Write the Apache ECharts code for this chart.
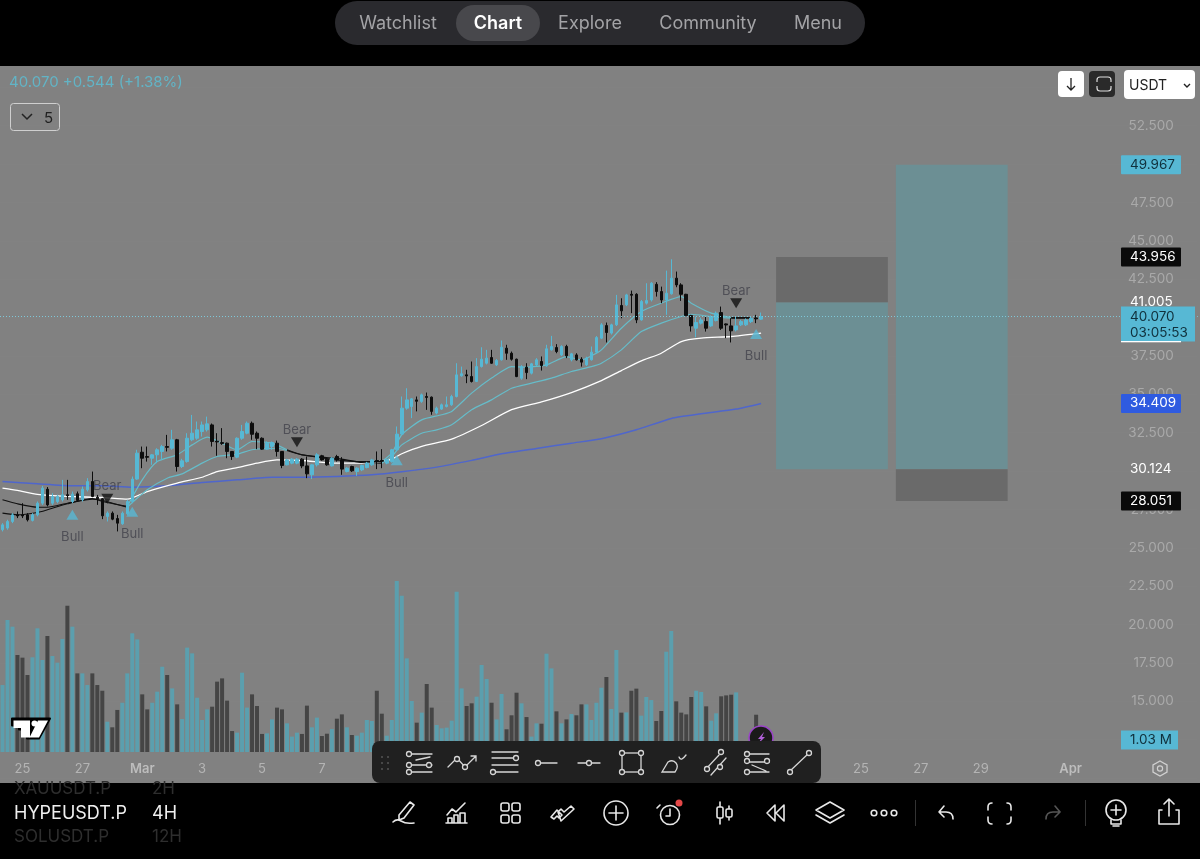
<!DOCTYPE html>
<html><head><meta charset="utf-8">
<style>
html,body{margin:0;padding:0;background:#000;width:1200px;height:859px;overflow:hidden}
#chart{position:absolute;left:0;top:0;width:1200px;height:859px}
#chrome{position:absolute;left:0;top:0;pointer-events:none}
#chrome text{font-family:Inter,"Noto Sans",sans-serif}
.i{fill:none;stroke:#e8e8e8;stroke-width:1.6;stroke-linecap:round;stroke-linejoin:round}
.t{fill:none;stroke:#d6d6d6;stroke-width:1.3;stroke-linecap:round}
.t circle{fill:#202020}
</style>
<script src="https://cdn.jsdelivr.net/npm/echarts@6/dist/echarts.min.js"></script>
</head><body>
<div id="chart"></div>
<svg id="chrome" width="1200" height="859" viewBox="0 0 1200 859">
  <!-- top bar -->
  <rect x="0" y="0" width="1200" height="66" fill="#000"/>
  <rect x="335" y="1" width="530" height="44" rx="22" fill="#2a2a2e"/>
  <rect x="456" y="5" width="84" height="36" rx="18" fill="#48484c"/>
  <g font-size="18" fill="#a3a3a6" text-anchor="middle">
    <text x="398" y="29">Watchlist</text>
    <text x="498" y="29" fill="#fff" font-weight="600">Chart</text>
    <text x="590" y="29">Explore</text>
    <text x="708" y="29">Community</text>
    <text x="818" y="29">Menu</text>
  </g>
  <!-- legend row -->
  <text x="9" y="87" font-size="15" fill="#62b4c6">40.070 +0.544 (+1.38%)</text>
  <rect x="10.5" y="103.5" width="49" height="27" rx="3" fill="none" stroke="#cfcfcf"/>
  <path d="M22 114l5 5 5-5" fill="none" stroke="#222" stroke-width="1.5"/>
  <text x="44" y="123" font-size="15" fill="#222">5</text>
  <!-- top right buttons -->
  <rect x="1058" y="71" width="26" height="26" rx="4" fill="#fff"/>
  <path d="M1071 78v12M1067 86l4 4 4-4" fill="none" stroke="#222" stroke-width="1.3"/>
  <rect x="1089" y="71" width="26" height="26" rx="4" fill="#2a2a2a"/>
  <path d="M1097 82v-2q0-3 3-3h8q3 0 3 3v2M1097 86v2q0 3 3 3h8q3 0 3-3v-2" fill="none" stroke="#ddd" stroke-width="1.2"/>
  <rect x="1124" y="70" width="71" height="29" rx="4" fill="#fff"/>
  <text x="1129" y="90" font-size="14" fill="#222">USDT</text>
  <path d="M1184 84l3 3 3-3" fill="none" stroke="#222" stroke-width="1.4"/>
  <!-- white EMA label edge -->
  <rect x="1121" y="341" width="60" height="1.3" fill="#fff"/>
  <!-- TradingView mark -->
  <path d="M12 718.5h38l-11 20h-12v-9h-8v-4h-7z" fill="#000" stroke="#000" stroke-width="2" stroke-linejoin="round"/>
  <path d="M13.5 720.5h16.5v17h-9v-9.5h-7.5z" fill="#fff"/>
  <circle cx="34.5" cy="723.5" r="3" fill="#fff"/>
  <path d="M38 720.5h10l-9 17h-9.5z" fill="#fff"/>
  <!-- lightning -->
  <circle cx="761" cy="738" r="12" fill="#1a1a1a" stroke="#9a45c8" stroke-width="1.6"/>
  <path d="M764 732l-6 7h3l-3 5 7-7h-3z" fill="#b060d8"/>
  <!-- settings hex -->
  <path d="M1160 761l7 4v7l-7 4-7-4v-7z" fill="none" stroke="#d0d0d0" stroke-width="1.3"/>
  <circle cx="1160" cy="768.5" r="2.6" fill="none" stroke="#d0d0d0" stroke-width="1.2"/>
  <!-- drawing toolbar -->
  <rect x="372" y="741" width="449" height="42" rx="8" fill="#202020"/>
  <g fill="#555"><circle cx="382" cy="757" r="1"/><circle cx="388" cy="757" r="1"/><circle cx="382" cy="763" r="1"/><circle cx="388" cy="763" r="1"/><circle cx="382" cy="769" r="1"/><circle cx="388" cy="769" r="1"/></g>
  <g class="t">
    <path d="M412 754h20M412 765h20M412 772h20M416 760l14-3" /><circle cx="409" cy="754" r="2.5"/><circle cx="429" cy="765" r="2.5"/><circle cx="409" cy="765" r="2.5"/><circle cx="409" cy="772" r="2.5"/>
    <path d="M448 767l9-9 8 9 11-11M471 756h5v5"/><circle cx="457" cy="759" r="2.5"/><circle cx="465" cy="767" r="2.5"/>
    <path d="M492 752h26M492 758h26M492 765h26M492 772h26"/><circle cx="516" cy="758" r="2.5"/><circle cx="493" cy="772" r="2.5"/>
    <path d="M539 763h18"/><circle cx="538" cy="763" r="2.5"/>
    <path d="M578 763h22"/><circle cx="589" cy="763" r="2.5"/>
    <rect x="622" y="753" width="19" height="19" fill="none"/><circle cx="622" cy="753" r="2.5"/><circle cx="641" cy="753" r="2.5"/><circle cx="622" cy="772" r="2.5"/><circle cx="641" cy="772" r="2.5"/>
    <path d="M662 772l6-10q5-3 8 1t-1 9zM679 757q2 5 7-2"/>
    <path d="M706 769l13-14M711 775l15-17"/><circle cx="707" cy="769" r="2.5"/><circle cx="721" cy="752" r="2.5"/><circle cx="720" cy="767" r="2.5"/>
    <path d="M747 754h22M747 762h22M747 772h22M752 765l14 6"/><circle cx="747" cy="754" r="2.5"/><circle cx="767" cy="761" r="2.5"/><circle cx="747" cy="761" r="2.5"/><circle cx="747" cy="772" r="2.5"/>
    <path d="M790 771l19-18"/><circle cx="790" cy="772" r="2.5"/><circle cx="809" cy="753" r="2.5"/>
  </g>
  <!-- bottom bar -->
  <rect x="0" y="783" width="1200" height="76" fill="#000"/>
  <g font-size="18">
    <text x="14" y="794" fill="#2e2e2e" font-size="17">XAUUSDT.P</text><text x="152" y="794" fill="#2e2e2e" font-size="17">2H</text>
    <text x="14" y="819" fill="#efefef">HYPEUSDT.P</text><text x="152" y="819" fill="#efefef">4H</text>
    <text x="14" y="842" fill="#2e2e2e" font-size="17">SOLUSDT.P</text><text x="152" y="842" fill="#2e2e2e" font-size="17">12H</text>
  </g>
  <g class="i">
    <path d="M410 802l4 3-10 13-5 2 0-5zM393 822c3-3 5-3 8-1s6 3 13 2"/>
    <path d="M447 815l5-6 4 3 9-9M448 823v-5h4v5zM454 823v-8h4v8zM460 823v-10h5v10zM446 823h21"/>
    <rect x="501" y="803" width="8" height="8" rx="2"/><rect x="512" y="803" width="8" height="8" rx="2"/><rect x="501" y="815" width="8" height="8" rx="2"/><rect x="512" y="815" width="8" height="8" rx="2"/>
    <path d="M551 817l6-7 5 5-3 3-2-2-3 3zM561 821l13-12-3-3-7 6-3-3-3 3z"/>
    <circle cx="616" cy="813" r="12"/><path d="M616 806v14M609 813h14"/>
    <circle cx="670" cy="815" r="9.5"/><path d="M670 809v7h-4M660 805l-3 3"/>
    <path d="M720 802v22M729 806v14"/><rect x="717" y="807" width="6" height="11" rx="1.5" fill="#000"/><rect x="726" y="809" width="6" height="8" rx="1.5" fill="#000"/>
    <path d="M775 805l-8 8 8 8M784 805l-8 8 8 8zM775 805v16" />
    <path d="M830 802l14 8-14 8-14-8zM816 815l14 8 14-8"/>
    <circle cx="874" cy="813" r="2.8"/><circle cx="884" cy="813" r="2.8"/><circle cx="894" cy="813" r="2.8"/>
    <path d="M953 819q0-7-7-7h-7M944 806l-5 6 5 5"/>
    <path d="M992 803q-4 0-4 4v3M1007 803q4 0 4 4v3M992 824q-4 0-4-4v-3M1007 824q4 0 4-4v-3"/>
    <circle cx="1116" cy="810" r="10"/><path d="M1116 805v10M1111 810h10M1111 820v4h10v-4M1113 826h6"/>
    <path d="M1169 800v16M1164 804l5-5 5 5M1162 810h-3v14h20v-14h-3"/>
  </g>
  <path d="M1046 819q0-7 7-7h7M1055 806l5 6-5 5" fill="none" stroke="#555" stroke-width="1.6" stroke-linecap="round"/>
  <path d="M915.5 800v26M1085.5 800v26" stroke="#333"/>
  <circle cx="679" cy="803" r="3.5" fill="#e54848"/>
</svg>
<script>
// tick labels
const xTickIndex = [4,16,28,40,52,64,76,88,100,112,124,136,148,160,172,184,196,214];
const xTickText  = ['25','27','Mar','3','5','7','9','11','13','15','17','19','21','23','25','27','29','Apr'];
const yTickLabels = [52.5,47.5,45,42.5,37.5,35,32.5,27.5,25,22.5,20,17.5,15];

// candles: open, close, low, high
const candles = [
[26.18,26.50,26.07,26.61],[26.29,26.72,26.18,26.83],[26.72,27.15,26.61,27.26],[27.15,27.08,26.94,27.37],[27.15,27.08,26.94,27.91],
[27.15,26.83,26.72,27.26],[26.79,27.15,26.72,27.26],[27.15,27.91,27.05,28.02],[27.91,28.89,27.80,29.04],[28.82,27.80,27.70,28.96],
[27.91,28.35,27.80,28.56],[28.02,28.35,27.91,28.46],[28.13,28.46,28.02,29.43],[28.46,28.40,28.13,29.43],[28.02,28.50,27.91,28.67],
[28.52,28.09,28.02,28.67],[28.13,28.82,28.02,29.00],[28.78,29.32,28.67,29.54],[29.32,28.35,28.30,29.97],[28.30,28.20,27.80,28.45],
[28.20,27.09,26.87,28.25],[27.05,27.26,26.72,27.37],[27.26,26.87,26.80,27.37],[26.91,26.61,26.07,27.15],[26.57,27.26,26.50,27.37],
[27.22,28.02,27.15,28.13],[28.02,29.48,27.91,29.65],[29.48,31.17,29.43,31.39],[31.23,30.84,30.19,31.60],[30.95,30.90,30.62,31.60],
[30.84,31.06,30.41,31.10],[31.06,31.39,30.52,31.49],[31.28,31.60,30.73,31.71],[31.60,31.55,31.28,32.36],[31.49,32.04,31.39,32.69],
[32.04,30.30,29.97,32.10],[30.30,30.67,30.20,30.80],[30.62,32.14,30.55,32.47],[32.04,32.47,31.95,33.66],[32.14,32.69,32.04,33.23],
[32.58,33.01,32.25,33.23],[32.69,33.08,32.58,33.55],[33.01,31.93,31.60,33.10],[31.95,31.90,31.00,32.47],[31.86,31.80,31.71,32.80],
[31.82,31.28,30.84,31.86],[31.28,30.95,30.73,31.30],[30.91,32.14,30.84,32.20],[32.14,32.58,32.04,33.01],[32.47,33.12,32.40,33.23],
[33.12,32.40,32.04,33.23],[32.47,32.14,31.43,32.58],[32.14,31.43,31.39,32.20],[31.43,31.82,31.39,31.93],[31.60,31.86,31.39,31.93],
[31.82,31.28,30.95,31.99],[31.28,30.37,30.19,31.30],[30.41,30.73,30.37,30.80],[30.52,30.78,30.45,30.85],[30.52,30.78,30.45,30.85],
[30.78,30.34,30.19,30.84],[30.34,29.82,29.54,30.95],[29.76,30.41,29.48,30.45],[30.41,31.06,30.30,31.17],[31.00,30.73,30.68,31.06],
[30.78,30.41,30.35,30.84],[30.34,30.84,30.30,30.90],[30.95,30.73,30.62,31.06],[30.73,30.13,29.76,30.91],[29.97,30.19,29.92,30.25],
[30.30,30.02,29.95,30.35],[29.97,30.19,29.69,30.25],[30.08,30.36,30.00,30.42],[30.23,30.52,30.18,30.60],[30.41,30.73,30.35,30.80],
[30.69,30.64,30.13,31.28],[30.69,30.64,30.19,31.43],[30.52,30.74,30.45,30.80],[30.63,31.39,30.55,31.45],[31.39,32.41,31.30,32.91],
[32.41,34.10,32.35,34.86],[34.10,34.64,34.00,35.40],[34.21,34.71,33.45,34.75],[34.64,34.55,33.89,34.86],[34.54,34.97,34.45,35.05],
[34.86,34.80,33.99,35.12],[34.82,33.89,33.67,34.86],[33.78,34.10,33.70,34.20],[34.04,34.32,33.98,34.40],[34.21,34.32,34.15,34.86],
[34.32,34.86,34.25,34.97],[34.86,36.27,34.80,37.03],[36.21,36.34,36.15,36.81],[36.27,36.20,35.73,36.60],[36.16,35.84,35.77,37.14],
[35.84,36.81,35.80,37.36],[36.81,37.29,36.75,38.07],[37.03,37.36,36.95,37.90],[37.40,37.03,36.99,37.90],[36.92,37.21,36.85,37.30],
[37.25,38.07,37.20,38.51],[38.01,37.68,37.25,38.23],[37.68,37.29,37.20,37.79],[37.29,36.16,36.12,37.33],[36.05,36.81,35.95,36.90],
[36.77,36.42,35.99,37.03],[36.38,36.99,36.30,37.05],[36.92,37.25,36.85,37.36],[37.14,36.88,36.55,37.47],[36.86,37.97,36.80,38.23],
[37.90,38.12,37.85,38.81],[38.05,37.79,37.68,38.27],[37.57,38.12,37.50,38.20],[38.12,37.51,37.36,38.23],[37.25,37.64,37.15,37.70],
[37.57,37.25,37.20,37.68],[37.29,37.10,36.81,37.42],[36.92,37.36,36.85,37.45],[37.25,37.75,37.20,38.12],[37.75,38.70,37.68,38.80],
[38.66,39.53,38.60,39.64],[39.48,39.03,38.38,39.68],[38.99,39.53,38.90,39.60],[39.53,40.83,39.45,41.48],[40.79,40.44,39.96,41.26],
[40.83,41.48,40.75,41.55],[41.52,41.46,40.29,41.76],[41.52,39.85,39.64,41.59],[39.85,41.05,39.80,41.15],[40.94,41.11,40.85,42.24],
[41.15,42.24,41.05,42.31],[42.17,41.70,41.37,42.31],[41.70,41.15,40.94,42.02],[41.15,41.59,40.18,43.06],[41.55,42.57,41.50,43.80],
[42.57,42.13,41.98,43.00],[42.13,41.52,41.09,42.24],[41.52,40.13,40.11,41.55],[40.13,39.46,39.09,40.18],[39.31,39.68,38.72,40.07],
[39.64,39.85,39.55,40.00],[39.74,39.31,39.09,40.07],[39.46,40.07,39.40,40.15],[39.81,40.29,39.75,40.40],[40.33,39.31,39.20,40.72],
[39.59,39.52,38.66,39.62],[39.46,39.14,38.38,39.96],[39.20,39.46,39.10,40.07],[39.53,39.74,39.45,39.85],[39.53,39.85,39.45,39.95],
[39.74,39.96,39.65,40.05],[39.98,39.92,39.64,40.18],[39.90,40.07,39.85,40.33]
];

// volume in millions
const volume = [
5.75,11.33,10.76,8.33,8.10,6.61,8.13,10.62,7.90,9.96,8.24,7.67,9.70,12.56,10.76,6.75,6.75,5.75,6.75,5.75,
5.26,2.60,2.12,3.61,4.23,6.75,10.19,9.67,4.95,3.66,4.23,5.18,7.32,6.61,5.46,4.09,2.83,8.96,8.47,4.66,
2.75,3.66,3.89,6.04,6.32,4.41,1.80,1.66,6.81,3.81,4.95,3.95,1.55,1.60,2.80,3.81,3.66,2.46,1.32,1.66,
1.55,3.98,2.12,2.95,1.37,1.57,1.97,2.86,3.23,2.12,1.46,1.40,1.66,2.75,2.66,5.26,3.29,1.40,2.75,14.68,
13.42,8.04,4.38,2.52,3.38,5.84,3.81,2.32,2.03,2.09,2.69,13.76,5.46,3.95,4.18,4.75,7.47,6.27,4.23,2.80,
4.98,1.95,3.15,5.09,4.18,3.00,1.32,2.46,2.43,8.44,7.18,3.49,2.46,2.80,3.26,3.15,4.09,4.09,2.75,4.23,
5.52,6.44,3.69,8.76,3.38,3.40,5.26,5.44,3.12,4.72,4.46,2.66,3.52,8.61,10.39,4.35,3.38,3.23,4.72,5.26,
5.15,3.92,2.69,3.32,4.78,4.86,4.92,5.12,0.70,0.60,0.70,3.20,1.03
];

// moving averages: [bar, value]
const blueLine = [[0,29.32],[7,29.17],[14,29.04],[20,29.04],[26,28.95],[33,29.04],[40,29.26],[47,29.43],[54,29.60],[60,29.60],[67,29.65],[74,29.76],[80,29.96],[87,30.26],[94,30.70],[100,31.13],[107,31.48],[114,31.82],[120,32.11],[127,32.69],[134,33.43],[140,33.73],[147,34.04],[152,34.41]];
const whiteLine = [[0,28.89],[3,28.74],[7,28.48],[13,28.35],[20,28.28],[25,28.17],[29,28.67],[35,29.22],[40,29.60],[43,29.97],[47,30.23],[51,30.52],[55,30.73],[60,30.69],[67,30.52],[74,30.52],[78,30.78],[80,31.13],[84,31.61],[90,32.08],[96,32.97],[102,34.00],[108,34.51],[114,35.12],[120,35.90],[124,36.55],[128,37.18],[132,37.68],[136,38.44],[140,38.66],[146,38.77],[152,38.99]];
const mediumLine = [[0,28.13],[3,27.87],[7,27.65],[9,27.65],[13,27.91],[18,28.17],[20,28.09],[25,27.65],[29,28.78],[33,29.54],[36,29.82],[40,30.52],[43,30.95],[47,31.10],[50,31.39],[55,31.49],[57,31.34],[60,31.06],[64,30.91],[68,30.78],[72,30.56],[76,30.52],[78,30.96],[80,31.71],[84,32.47],[87,32.69],[90,33.02],[94,34.00],[98,34.64],[102,35.40],[106,35.73],[110,36.06],[114,36.49],[118,36.81],[120,37.03],[124,37.90],[128,39.09],[132,39.64],[136,40.07],[138,40.22],[142,40.07],[146,39.96],[150,39.96]];
const fastLine = [[0,27.26],[3,27.15],[7,27.30],[9,27.48],[13,27.87],[18,28.22],[20,28.02],[25,27.70],[28,29.43],[31,30.62],[35,31.06],[38,31.71],[41,32.21],[44,31.82],[47,31.39],[50,31.93],[54,31.82],[57,31.39],[60,31.06],[63,30.91],[67,30.73],[71,30.62],[76,30.62],[78,31.17],[80,32.37],[84,33.34],[88,33.67],[90,33.89],[94,35.08],[98,36.06],[102,36.81],[105,36.77],[109,36.92],[113,37.46],[116,37.25],[118,37.51],[120,37.90],[124,39.31],[128,40.40],[132,40.94],[136,41.37],[138,40.94],[142,40.29],[146,40.00],[150,40.00]];
const bearRanges = [[0,25],[57,76],[146,150]];
const bullRanges = [[25,57],[76,146]];

// signals
const bullIdx = [14,26,79,151];
const bullVal = [27.15,27.36,30.70,38.94];
const bearIdx = [21,59,147];
const bearVal = [28.20,31.88,40.94];

// position boxes: start bar, end bar, top price, bottom price
const lossBoxes   = [[155,177,43.956,41.005],[179,201,30.124,28.051]];
const profitBoxes = [[155,177,41.005,30.124],[179,201,49.967,30.124]];

// price tags
const lastPrice = 40.07;
const countdown = '03:05:53';
const tagValues = [49.967,43.956,41.005,40.070,34.409,30.124,28.051];
const tagKinds  = ['teal','black','plain','last','blue','plain','black'];
const volumeTag = 1.03;

const TEAL='#57b8d4', VTEAL='#5b9fae', VDARK='#454545', DARK='#0d0d0d';
const barCount = 240;
const categories = [];
for (let i=0;i<barCount;i++) categories.push('bar'+i);
const FONT='Inter, "Noto Sans", sans-serif';

function seg(points,a,b){return points.filter(p=>p[0]>=a&&p[0]<=b);}
function lineSeries(data,color,width,name){
  return {type:'line',name,data,xAxisIndex:0,yAxisIndex:0,showSymbol:false,symbol:'none',smooth:0.2,
    lineStyle:{color,width},silent:true,z:2,animation:false};
}
const lines=[];
lines.push(lineSeries(blueLine,'#4f66cc',1.5,'ema200'));
lines.push(lineSeries(whiteLine,'#ffffff',1.3,'ema50'));
[[mediumLine,'medium'],[fastLine,'fast']].forEach(([pts,n])=>{
  bullRanges.forEach(r=>lines.push(lineSeries(seg(pts,r[0],r[1]),'#66bcc9',1.2,n)));
  bearRanges.forEach(r=>lines.push(lineSeries(seg(pts,r[0],r[1]),'#111111',1.1,n)));
});

function boxRender(color){
  return function(params,api){
    const p0=api.coord([api.value(0),api.value(2)]);
    const p1=api.coord([api.value(1),api.value(3)]);
    return {type:'rect',shape:{x:p0[0],y:p0[1],width:p1[0]-p0[0]+2,height:p1[1]-p0[1]},style:{fill:color},silent:true};
  };
}
function boxSeries(data,color){
  return {type:'custom',data,xAxisIndex:0,yAxisIndex:0,encode:{x:[0,1],y:[2,3]},renderItem:boxRender(color),z:1,silent:true,animation:false,clip:false};
}
const tagStyle={teal:{bg:TEAL,fg:'#10303c'},black:{bg:'#0a0a0a',fg:'#fff'},blue:{bg:'#2f5be0',fg:'#fff'},plain:{bg:null,fg:'#fff'},last:{bg:TEAL,fg:'#10303c'}};
function tagRender(params,api){
  const y=api.coord([0,api.value(1)])[1];
  const kind=tagKinds[params.dataIndex];
  const s=tagStyle[kind];
  const txt=tagValues[params.dataIndex].toFixed(3);
  const kids=[];
  if(kind==='last'){
    kids.push({type:'rect',shape:{x:1121,y:y-10,width:74,height:35},style:{fill:s.bg}});
    kids.push({type:'text',style:{x:1130,y:y,text:txt,fill:s.fg,font:'13.5px '+FONT,verticalAlign:'middle'}});
    kids.push({type:'text',style:{x:1130,y:y+16,text:countdown,fill:s.fg,font:'13.5px '+FONT,verticalAlign:'middle'}});
  }else{
    if(s.bg)kids.push({type:'rect',shape:{x:1121,y:y-9.5,width:60,height:19,r:1},style:{fill:s.bg}});
    kids.push({type:'text',style:{x:1130,y:y,text:txt,fill:s.fg,font:'13.5px '+FONT,verticalAlign:'middle'}});
  }
  return {type:'group',children:kids,silent:true};
}
function volTagRender(params,api){
  const y=api.coord([0,api.value(1)])[1];
  return {type:'group',silent:true,children:[
    {type:'rect',shape:{x:1121,y:y-9.5,width:57,height:19},style:{fill:TEAL}},
    {type:'text',style:{x:1130,y:y,text:volumeTag.toFixed(2)+' M',fill:'#10303c',font:'13.5px '+FONT,verticalAlign:'middle'}}
  ]};
}
function signalSeries(idx,val,color,rot,labelText,pos,dist){
  return {type:'scatter',xAxisIndex:0,yAxisIndex:0,data:idx.map((x,i)=>[x,val[i]]),symbol:'triangle',symbolSize:[12,10],symbolRotate:rot,
    itemStyle:{color},label:{show:true,formatter:labelText,position:pos,distance:dist,color:'#44444c',fontSize:13,fontFamily:FONT},z:6,silent:true,animation:false};
}

const option={
  animation:false,
  backgroundColor:'#818181',
  textStyle:{fontFamily:FONT},
  grid:[{left:-2.2,width:1200,top:49,height:729.1},{left:-2.2,width:1200,top:554,height:198}],
  xAxis:[
    {type:'category',gridIndex:0,data:categories,axisLine:{show:false},axisTick:{show:false},axisLabel:{show:false},splitLine:{show:false}},
    {type:'category',gridIndex:1,data:categories,axisLine:{show:false},axisTick:{show:false},
      axisLabel:{margin:11,color:'#b4b4b4',fontSize:13,fontFamily:FONT,
        interval:(i)=>xTickIndex.includes(i),
        formatter:(v,i)=>{const k=xTickIndex.indexOf(i);if(k<0)return '';const t=xTickText[k];return (t==='Mar'||t==='Apr')?'{b|'+t+'}':t;},
        rich:{b:{color:'#bdbdbd',fontSize:13,fontWeight:600,fontFamily:FONT}}},
      splitLine:{show:false}}
  ],
  yAxis:[
    {type:'value',gridIndex:0,position:'right',min:10,max:57.5,interval:2.5,
      axisLine:{show:false},axisTick:{show:false},
      axisLabel:{inside:true,margin:24,color:'#a9a9a9',fontSize:13.5,fontFamily:FONT,padding:[2,0,0,0],
        formatter:(v)=>yTickLabels.includes(v)?v.toFixed(3):''},
      splitLine:{show:true,lineStyle:{color:'rgba(255,255,255,0.012)',width:1}}},
    {type:'value',gridIndex:1,min:0,max:17,show:false,splitLine:{show:false}}
  ],
  series:[
    boxSeries(profitBoxes,'#6c8f94'),
    boxSeries(lossBoxes,'#6a6a6a'),
    {type:'bar',xAxisIndex:1,yAxisIndex:1,barWidth:4,data:volume.map((v,i)=>({value:v,itemStyle:{color:candles[i][1]>=candles[i][0]?VTEAL:VDARK}})),z:2,silent:true,animation:false},
    ...lines,
    {type:'candlestick',name:'HYPEUSDT.P',xAxisIndex:0,yAxisIndex:0,data:candles,barWidth:3,silent:true,z:3,animation:false,
      itemStyle:{color:TEAL,color0:DARK,borderColor:TEAL,borderColor0:DARK,borderWidth:1},
      markLine:{silent:true,symbol:'none',label:{show:false},animation:false,
        lineStyle:{color:'#7ec7d8',type:[1,2],width:1},data:[{yAxis:lastPrice}]}},
    signalSeries(bullIdx,bullVal,TEAL,0,'Bull','bottom',11),
    signalSeries(bearIdx,bearVal,'#111',180,'Bear','top',1),
    {type:'custom',xAxisIndex:0,yAxisIndex:0,data:tagValues.map(v=>[0,v]),encode:{x:0,y:1},renderItem:tagRender,z:10,silent:true,animation:false,clip:false},
    {type:'custom',xAxisIndex:1,yAxisIndex:1,data:[[0,volumeTag]],encode:{x:0,y:1},renderItem:volTagRender,z:10,silent:true,animation:false,clip:false}
  ]
};
echarts.init(document.getElementById('chart'),null,{renderer:'canvas'}).setOption(option);
</script>
</body></html>
